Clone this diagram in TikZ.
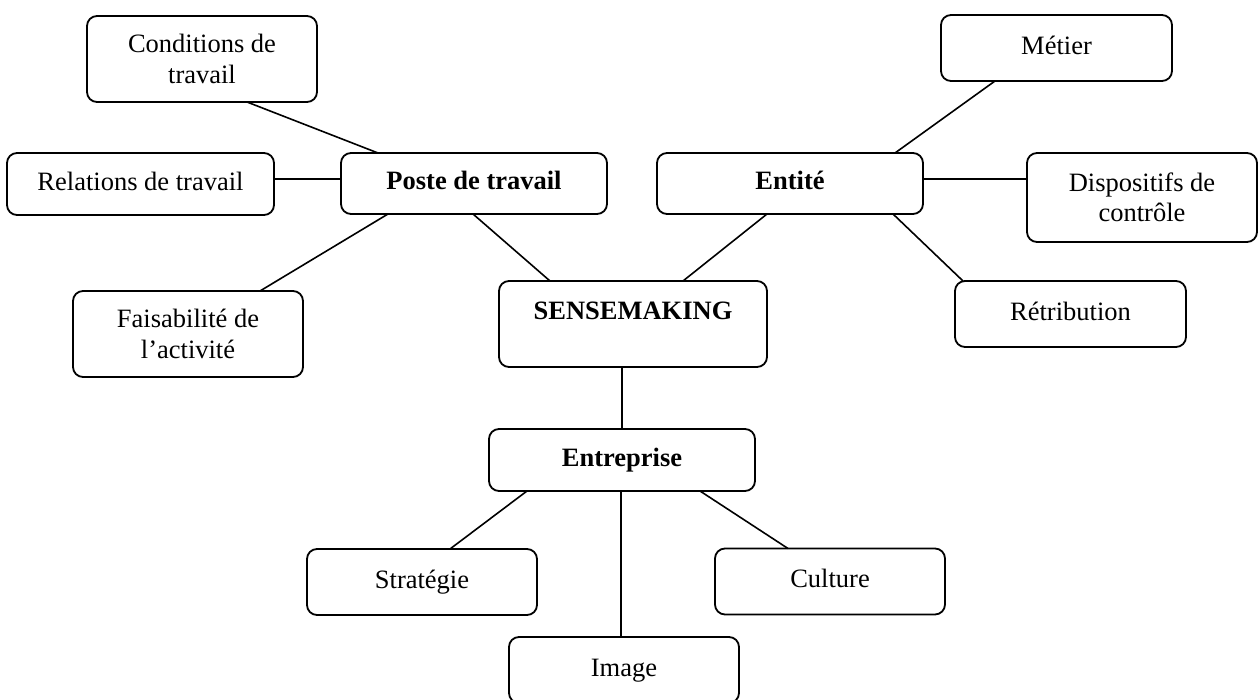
\documentclass[tikz,border=0pt]{standalone}
\usepackage{fontspec}
\setmainfont{Liberation Serif}
\begin{document}
\begin{tikzpicture}[x=1pt,y=-1pt,
  box/.style={draw, rounded corners=10pt, line width=1.8pt, inner sep=0pt, outer sep=0pt,
    align=center, font=\fontsize{26.5}{30.5}\selectfont},
  head/.style={box, font=\fontsize{26.5}{30.5}\selectfont\bfseries},
  link/.style={line width=1.6pt}]
\fill[white] (0,0) rectangle (1258,700);
\useasboundingbox (0,0) rectangle (1258,700);

% left branch
\node[box, minimum width=230pt, minimum height=86pt] (cond) at (202,59) {Conditions de\\travail};
\node[box, minimum width=267pt, minimum height=62pt] (rel) at (140.5,184) {\strut Relations de travail};
\node[head, minimum width=266pt, minimum height=61pt] (poste) at (474,183.5) {\strut Poste de travail};
\node[box, minimum width=230pt, minimum height=86pt] (fais) at (188,334) {Faisabilité de\\l’activité};

% centre
\node[head, minimum width=268pt, minimum height=86pt] (sense) at (633,324) {\strut SENSEMAKING\\\mbox{}};

% right branch
\node[head, minimum width=266pt, minimum height=61pt] (entite) at (790,183.5) {\strut Entité};
\node[box, minimum width=231pt, minimum height=66pt] (metier) at (1056.5,48) {\strut Métier};
\node[box, minimum width=230pt, minimum height=89pt] (disp) at (1142,197.5) {Dispositifs de\\contrôle};
\node[box, minimum width=231pt, minimum height=66pt] (retr) at (1070.5,314) {\strut Rétribution};

% lower branch
\node[head, minimum width=266pt, minimum height=62pt] (entr) at (622,460) {\strut Entreprise};
\node[box, minimum width=230pt, minimum height=66pt] (strat) at (422,582) {\strut Stratégie};
\node[box, minimum width=230pt, minimum height=66pt] (cult) at (830,581.5) {\strut Culture};
\node[box, minimum width=230pt, minimum height=66pt] (image) at (624,670) {\strut Image};

% connectors
\draw[link] ([xshift=160pt]cond.south west) -- ([xshift=37pt]poste.north west);
\draw[link] ([yshift=5pt]rel.east) -- ([yshift=4.5pt]poste.west);
\draw[link] ([xshift=47pt]poste.south west) -- ([xshift=187pt]fais.north west);
\draw[link] ([xshift=132pt]poste.south west) -- ([xshift=51pt]sense.north west);
\draw[link] ([xshift=110pt]entite.south west) -- ([xshift=184pt]sense.north west);
\draw[link] ([xshift=238pt]entite.north west) -- ([xshift=54pt]metier.south west);
\draw[link] ([yshift=4.5pt]entite.east) -- ([yshift=18.5pt]disp.west);
\draw[link] ([xshift=236pt]entite.south west) -- ([xshift=8pt]retr.north west);
\draw[link] (sense.south -| entr.north) -- (entr.north);
\draw[link] ([xshift=38pt]entr.south west) -- ([xshift=143pt]strat.north west);
\draw[link] ([xshift=-1pt]entr.south) -- ([xshift=112pt]image.north west);
\draw[link] ([xshift=211pt]entr.south west) -- ([xshift=73pt]cult.north west);
\end{tikzpicture}
\end{document}
